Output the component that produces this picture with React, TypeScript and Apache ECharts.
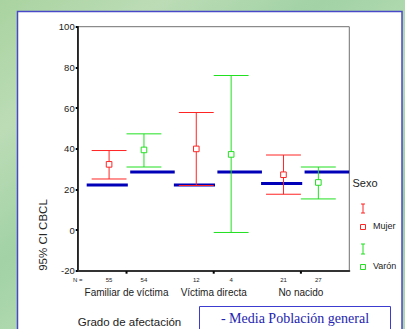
import React, { useEffect, useRef } from "react";
import * as echarts from "echarts";

const categories = ["Familiar de víctima", "Víctima directa", "No nacido"];
const sexes = ["Mujer", "Varón"];
const nMujer = [55, 12, 21];
const nVaron = [54, 4, 27];
const meanMujer = [32.3, 39.9, 27.2];
const lowMujer = [25.1, 21.9, 17.6];
const highMujer = [39.1, 57.8, 36.9];
const meanVaron = [39.4, 37.2, 23.4];
const lowVaron = [31.0, -1.2, 15.3];
const highVaron = [47.3, 76.0, 31.0];
const popMujer = [22.2, 22.2, 22.9];
const popVaron = [28.5, 28.5, 28.5];
const yMin = -20;
const yMax = 100;
const yStep = 20;

const RED = "#ff2424";
const GREEN = "#20e020";
const BLUE = "#0000b8";
const FONT = "Arial, 'Liberation Sans', sans-serif";
const SERIF = "'Times New Roman', 'Liberation Serif', serif";
const OFF = 0.2;
const X_MIN = -0.56;
const X_MAX = 2.555;

export default function App() {
  const ref = useRef<HTMLDivElement>(null);
  useEffect(() => {
    if (!ref.current) return;
    const chart = echarts.init(ref.current, null, { renderer: "svg" });

    const barData: number[][] = [];
    categories.forEach((_, i) => {
      barData.push([i, 0, lowMujer[i], meanMujer[i], highMujer[i]]);
      barData.push([i, 1, lowVaron[i], meanVaron[i], highVaron[i]]);
    });
    const popData: number[][] = [];
    categories.forEach((_, i) => {
      popData.push([i, 0, popMujer[i]]);
      popData.push([i, 1, popVaron[i]]);
    });
    const labelData = categories.map((_, i) => [i]);

    const option: any = {
      animation: false,
      backgroundColor: "transparent",
      grid: {
        left: 77.7,
        top: 26.7,
        right: 55.7,
        bottom: 58.3,
        show: true,
        borderColor: "#707070",
        borderWidth: 1,
        backgroundColor: "transparent",
      },
      xAxis: {
        type: "value",
        min: X_MIN,
        max: X_MAX,
        axisLine: { show: true, onZero: false, lineStyle: { color: "#333", width: 2 } },
        axisTick: { show: false },
        axisLabel: { show: false },
        splitLine: { show: false },
      },
      yAxis: {
        type: "value",
        min: yMin,
        max: yMax,
        interval: yStep,
        axisLine: { show: true, onZero: false, lineStyle: { color: "#000", width: 1.5 } },
        axisTick: { show: true, length: 2, lineStyle: { color: "#000", width: 2 } },
        axisLabel: { fontSize: 9.5, color: "#222", margin: 3, fontFamily: FONT },
        splitLine: { show: false },
      },
      graphic: [
        {
          type: "rect",
          z: -10,
          silent: true,
          shape: { x: 0, y: 0, width: 405, height: 329 },
          style: {
            fill: new echarts.graphic.LinearGradient(0, 0, 1, 1, [
              { offset: 0, color: "#a9d3a0" },
              { offset: 0.2, color: "#bcdcb6" },
              { offset: 0.4, color: "#a2d2a6" },
              { offset: 0.6, color: "#b8dcb4" },
              { offset: 0.8, color: "#9ccf9e" },
              { offset: 1, color: "#b4d8ae" },
            ]),
          },
        },
        {
          type: "rect",
          z: -9,
          silent: true,
          shape: { x: 17.5, y: 11.5, width: 384.5, height: 330 },
          style: { fill: "#ffffff", stroke: "#4848c8", lineWidth: 1.5 },
        },
        {
          type: "text",
          x: 43,
          y: 235,
          rotation: Math.PI / 2,
          style: {
            text: "95% CI CBCL",
            fontSize: 11.5,
            fontFamily: FONT,
            fill: "#222",
            align: "center",
            verticalAlign: "middle",
          },
        },
        {
          type: "text",
          x: 77.7,
          y: 322,
          style: {
            text: "Grado de afectación",
            fontSize: 11.5,
            fontFamily: FONT,
            fill: "#222",
            align: "left",
            verticalAlign: "middle",
          },
        },
        {
          type: "text",
          x: 352.5,
          y: 183,
          style: {
            text: "Sexo",
            fontSize: 11,
            fontFamily: FONT,
            fill: "#222",
            align: "left",
            verticalAlign: "middle",
          },
        },
        // legend Mujer
        { type: "line", shape: { x1: 363, y1: 204, x2: 363, y2: 213 }, style: { stroke: RED, lineWidth: 1 } },
        { type: "line", shape: { x1: 361, y1: 204, x2: 365, y2: 204 }, style: { stroke: RED, lineWidth: 1 } },
        { type: "line", shape: { x1: 361, y1: 213, x2: 365, y2: 213 }, style: { stroke: RED, lineWidth: 1 } },
        { type: "rect", shape: { x: 360.5, y: 224.5, width: 5, height: 5 }, style: { fill: "none", stroke: RED, lineWidth: 1 } },
        {
          type: "text",
          x: 373,
          y: 226,
          style: { text: sexes[0], fontSize: 9, fontFamily: FONT, fill: "#222", align: "left", verticalAlign: "middle" },
        },
        // legend Varón
        { type: "line", shape: { x1: 363, y1: 244, x2: 363, y2: 254 }, style: { stroke: GREEN, lineWidth: 1 } },
        { type: "line", shape: { x1: 361, y1: 244, x2: 365, y2: 244 }, style: { stroke: GREEN, lineWidth: 1 } },
        { type: "line", shape: { x1: 361, y1: 254, x2: 365, y2: 254 }, style: { stroke: GREEN, lineWidth: 1 } },
        { type: "rect", shape: { x: 360.5, y: 264.5, width: 5, height: 5 }, style: { fill: "none", stroke: GREEN, lineWidth: 1 } },
        {
          type: "text",
          x: 373,
          y: 265.5,
          style: { text: sexes[1], fontSize: 9, fontFamily: FONT, fill: "#222", align: "left", verticalAlign: "middle" },
        },
        // note box
        {
          type: "rect",
          shape: { x: 199.5, y: 306.5, width: 191, height: 30 },
          style: { fill: "#ffffff", stroke: "#3c3cd0", lineWidth: 1 },
        },
        {
          type: "text",
          x: 295,
          y: 318.5,
          style: {
            text: "- Media Población general",
            fontSize: 14,
            fontFamily: SERIF,
            fill: "#2424b0",
            align: "center",
            verticalAlign: "middle",
          },
        },
      ],
      series: [
        {
          type: "custom",
          name: "pop",
          z: 3,
          data: popData,
          renderItem: (params: any, api: any) => {
            const i = api.value(0);
            const s = api.value(1);
            const v = api.value(2);
            const a = s === 0 ? i - 0.457 : i + 0.042;
            const b = s === 0 ? i + 0.015 : i + 0.553;
            const p1 = api.coord([a, v]);
            const p2 = api.coord([b, v]);
            return {
              type: "line",
              shape: { x1: p1[0], y1: p1[1], x2: p2[0], y2: p2[1] },
              style: { stroke: BLUE, lineWidth: 3 },
            };
          },
        },
        {
          type: "custom",
          name: "bars",
          z: 4,
          data: barData,
          renderItem: (params: any, api: any) => {
            const i = api.value(0);
            const s = api.value(1);
            const lo = api.value(2);
            const m = api.value(3);
            const hi = api.value(4);
            const x = s === 0 ? i - OFF : i + OFF;
            const color = s === 0 ? RED : GREEN;
            const pHi = api.coord([x, hi]);
            const pLo = api.coord([x, lo]);
            const pM = api.coord([x, m]);
            const cL = api.coord([x - OFF, hi])[0];
            const cR = api.coord([x + OFF, hi])[0];
            const st = { stroke: color, lineWidth: 1, fill: "none" };
            return {
              type: "group",
              children: [
                { type: "line", shape: { x1: pHi[0], y1: pHi[1], x2: pLo[0], y2: pLo[1] }, style: st },
                { type: "line", shape: { x1: cL, y1: pHi[1], x2: cR, y2: pHi[1] }, style: st },
                { type: "line", shape: { x1: cL, y1: pLo[1], x2: cR, y2: pLo[1] }, style: st },
                {
                  type: "rect",
                  shape: { x: pM[0] - 2.8, y: pM[1] - 2.8, width: 5.6, height: 5.6 },
                  style: { stroke: color, lineWidth: 1, fill: "#ffffff" },
                },
              ],
            };
          },
        },
        {
          type: "custom",
          name: "labels",
          z: 5,
          data: labelData,
          renderItem: (params: any, api: any) => {
            const i = api.value(0);
            const base = api.coord([i, yMin]);
            const pM = api.coord([i - OFF, yMin]);
            const pV = api.coord([i + OFF, yMin]);
            const children: any[] = [
              {
                type: "rect",
                shape: { x: base[0] - 1, y: base[1] + 0.5, width: 2, height: 2.5 },
                style: { fill: "#000" },
              },
              {
                type: "text",
                x: base[0],
                y: base[1] + 22,
                style: {
                  text: categories[i],
                  fontSize: 10,
                  fontFamily: FONT,
                  fill: "#222",
                  align: "center",
                  verticalAlign: "middle",
                },
              },
              {
                type: "text",
                x: pM[0],
                y: base[1] + 9,
                style: { text: String(nMujer[i]), fontSize: 6, fontFamily: FONT, fill: "#222", align: "center", verticalAlign: "middle" },
              },
              {
                type: "text",
                x: pV[0],
                y: base[1] + 9,
                style: { text: String(nVaron[i]), fontSize: 6, fontFamily: FONT, fill: "#222", align: "center", verticalAlign: "middle" },
              },
            ];
            if (i === 0) {
              const p0 = api.coord([X_MIN, yMin]);
              children.push({
                type: "text",
                x: p0[0],
                y: base[1] + 9,
                style: { text: "N =", fontSize: 6, fontFamily: FONT, fill: "#222", align: "center", verticalAlign: "middle" },
              });
            }
            return { type: "group", children };
          },
        },
      ],
    };
    chart.setOption(option);
    return () => chart.dispose();
  }, []);
  return (
    <div
      ref={ref}
      style={{ position: "absolute", left: 0, top: 0, width: 405, height: 329 }}
    />
  );
}
